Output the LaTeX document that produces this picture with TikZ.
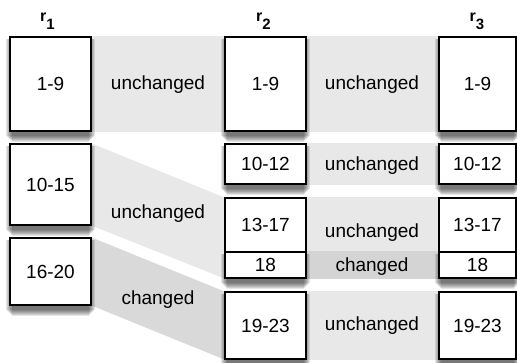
\documentclass[tikz,border=0pt]{standalone}
\usepackage{fontspec}
\setmainfont{Liberation Sans}
\usetikzlibrary{backgrounds}
\pgfdeclarelayer{shadowlayer}
\pgfsetlayers{background,shadowlayer,main}
\definecolor{bandlight}{HTML}{E8E8E8}
\definecolor{banddark}{HTML}{D9D9D9}
\definecolor{bandmid}{HTML}{D4D4D4}
\newcommand{\rlab}[1]{r\raisebox{-7.5pt}{\fontsize{15}{15}\selectfont\bfseries #1}}
\begin{document}
\begin{tikzpicture}[x=1pt,y=-1pt,
  box/.style={draw=black, line width=1.1pt, fill=white, inner sep=0pt,
    font=\fontsize{19}{22}\selectfont},
  lbl/.style={font=\fontsize{19}{22}\selectfont, inner sep=0pt},
  hdr/.style={font=\fontsize{16}{18}\selectfont\bfseries, inner sep=0pt, anchor=base},
  shadowpiece/.style={fill=black, opacity=0.1}]
\useasboundingbox (0,0) rectangle (517,362);

% headers
\node[hdr] (h1) at (47.5,21.7) {\rlab{1}};
\node[hdr] (h2) at (263.5,21.7) {\rlab{2}};
\node[hdr] (h3) at (477,21.7) {\rlab{3}};

% column 1
\node[box, minimum width=81pt, minimum height=94pt] (a1) at (50.5,84) {1-9};
\node[box, minimum width=81pt, minimum height=81pt] (b1) at (50.5,184.5) {10-15};
\node[box, minimum width=81pt, minimum height=67pt] (c1) at (50.5,271.5) {16-20};

% column 2
\node[box, minimum width=81pt, minimum height=94pt] (a2) at (265.5,84) {1-9};
\node[box, minimum width=81pt, minimum height=40pt] (d2) at (265.5,164) {10-12};
\node[box, minimum width=81pt, minimum height=54pt] (e2) at (265.5,225) {13-17};
\node[box, minimum width=81pt, minimum height=26pt] (f2) at (265.5,265) {18};
\node[box, minimum width=81pt, minimum height=67pt] (g2) at (265.5,325.5) {19-23};

% column 3
\node[box, minimum width=77pt, minimum height=94pt] (a3) at (477.5,84) {1-9};
\node[box, minimum width=77pt, minimum height=40pt] (d3) at (477.5,164) {10-12};
\node[box, minimum width=77pt, minimum height=54pt] (e3) at (477.5,225) {13-17};
\node[box, minimum width=77pt, minimum height=26pt] (f3) at (477.5,265) {18};
\node[box, minimum width=77pt, minimum height=67pt] (g3) at (477.5,325.5) {19-23};

\begin{scope}[on background layer]
  \fill[bandlight] (a1.north east) rectangle (a2.south west);
  \fill[bandlight] (b1.north east) -- (e2.north west) -- (f2.south west) -- (b1.south east) -- cycle;
  \fill[banddark] (c1.north east) -- (g2.north west) -- (g2.south west) -- (c1.south east) -- cycle;
  \fill[bandlight] (a2.north east) rectangle (a3.south west);
  \fill[bandlight] (d2.north east) rectangle (d3.south west);
  \fill[bandlight] (e2.north east) rectangle (e3.south west);
  \fill[bandmid] (f2.north east) rectangle (f3.south west);
  \fill[bandlight] (g2.north east) rectangle (g3.south west);
\end{scope}

% soft shadows below the boxes
\begin{pgfonlayer}{shadowlayer}
  \foreach \n in {a1,b1,c1,a2,d2,f2,g2,a3,d3,f3,g3} {
    \foreach \r in {1,...,7} {
      \fill[shadowpiece]
        ([xshift={(\r-4)*1pt}, yshift={-3pt}]\n.north west) rectangle
        ([xshift={(4-\r)*1pt}, yshift={-3pt-\r*1pt}]\n.south east);
    }
  }
\end{pgfonlayer}

% labels
\node[lbl] (u1) at (158,85) {unchanged};
\node[lbl] (u2) at (158,214) {unchanged};
\node[lbl] (c12) at (158,300) {changed};
\node[lbl] (u3) at (372,85) {unchanged};
\node[lbl] (u4) at (372,166) {unchanged};
\node[lbl] (u5) at (372,233) {unchanged};
\node[lbl] (c23) at (372,267) {changed};
\node[lbl] (u6) at (372,326) {unchanged};
\end{tikzpicture}
\end{document}
